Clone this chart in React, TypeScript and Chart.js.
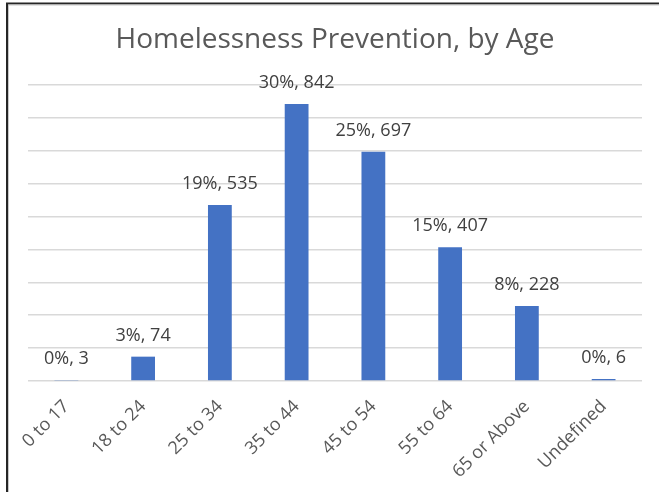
import React, { useEffect, useRef } from "react";
import { Chart, registerables } from "chart.js";

Chart.register(...registerables);

const categories = ["0 to 17", "18 to 24", "25 to 34", "35 to 44", "45 to 54", "55 to 64", "65 or Above", "Undefined"];
const counts = [3, 74, 535, 842, 697, 407, 228, 6];
const percents = ["0%", "3%", "19%", "30%", "25%", "15%", "8%", "0%"];
const chartTitle = "Homelessness Prevention, by Age";

const FONT = "'Open Sans', 'Noto Sans', sans-serif";

const decorPlugin = {
  id: "decor",
  afterDatasetsDraw(chart: any) {
    const ctx = chart.ctx;
    const meta = chart.getDatasetMeta(0);
    ctx.save();
    ctx.fillStyle = "#404040";
    ctx.font = `18px ${FONT}`;
    ctx.textAlign = "center";
    ctx.textBaseline = "alphabetic";
    meta.data.forEach((bar: any, i: number) => {
      ctx.fillText(`${percents[i]}, ${counts[i]}`, bar.x, bar.y - 16);
    });
    ctx.restore();
  },
  afterDraw(chart: any) {
    const ctx = chart.ctx;
    const area = chart.chartArea;
    ctx.save();
    ctx.fillStyle = "#595959";
    ctx.font = `28px ${FONT}`;
    ctx.textAlign = "center";
    ctx.textBaseline = "alphabetic";
    ctx.fillText(chartTitle, (area.left + area.right) / 2, 48);
    // frame
    ctx.strokeStyle = "#262626";
    ctx.lineWidth = 2;
    ctx.beginPath();
    ctx.moveTo(7, 492);
    ctx.lineTo(7, 3.5);
    ctx.lineTo(659, 3.5);
    ctx.stroke();
    ctx.strokeStyle = "#c8c8c8";
    ctx.lineWidth = 1;
    ctx.beginPath();
    ctx.moveTo(8.5, 492);
    ctx.lineTo(8.5, 5);
    ctx.lineTo(659, 5);
    ctx.stroke();
    ctx.restore();
  },
};

export default function App() {
  const ref = useRef<HTMLCanvasElement | null>(null);
  useEffect(() => {
    if (!ref.current) return;
    const chart = new Chart(ref.current, {
      type: "bar",
      data: {
        labels: categories,
        datasets: [
          {
            data: counts,
            backgroundColor: "#4472C4",
            borderWidth: 0,
            barPercentage: 0.62,
            categoryPercentage: 0.5,
          },
        ],
      },
      options: {
        animation: false,
        responsive: true,
        maintainAspectRatio: false,
        layout: { padding: { left: 28, right: 17, top: 85, bottom: 0 } },
        plugins: {
          legend: { display: false },
          title: { display: false },
          tooltip: { enabled: false },
        },
        scales: {
          x: {
            grid: { display: false },
            border: { display: false },
            ticks: {
              color: "#595959",
              font: { family: FONT, size: 18 },
              minRotation: 45,
              maxRotation: 45,
              autoSkip: false,
              padding: 7,
            },
            afterFit(scale: any) {
              scale.height = 111;
            },
          },
          y: {
            min: 0,
            max: 900,
            ticks: { display: false, stepSize: 100 },
            border: { display: false },
            grid: { color: "#d9d9d9", lineWidth: 1.5, drawTicks: false },
            afterFit(scale: any) {
              scale.width = 0;
            },
          },
        },
      },
      plugins: [decorPlugin],
    });
    return () => chart.destroy();
  }, []);
  return (
    <div style={{ position: "fixed", left: 0, top: 0, width: 659, height: 492, background: "#fff" }}>
      <canvas ref={ref} />
    </div>
  );
}
